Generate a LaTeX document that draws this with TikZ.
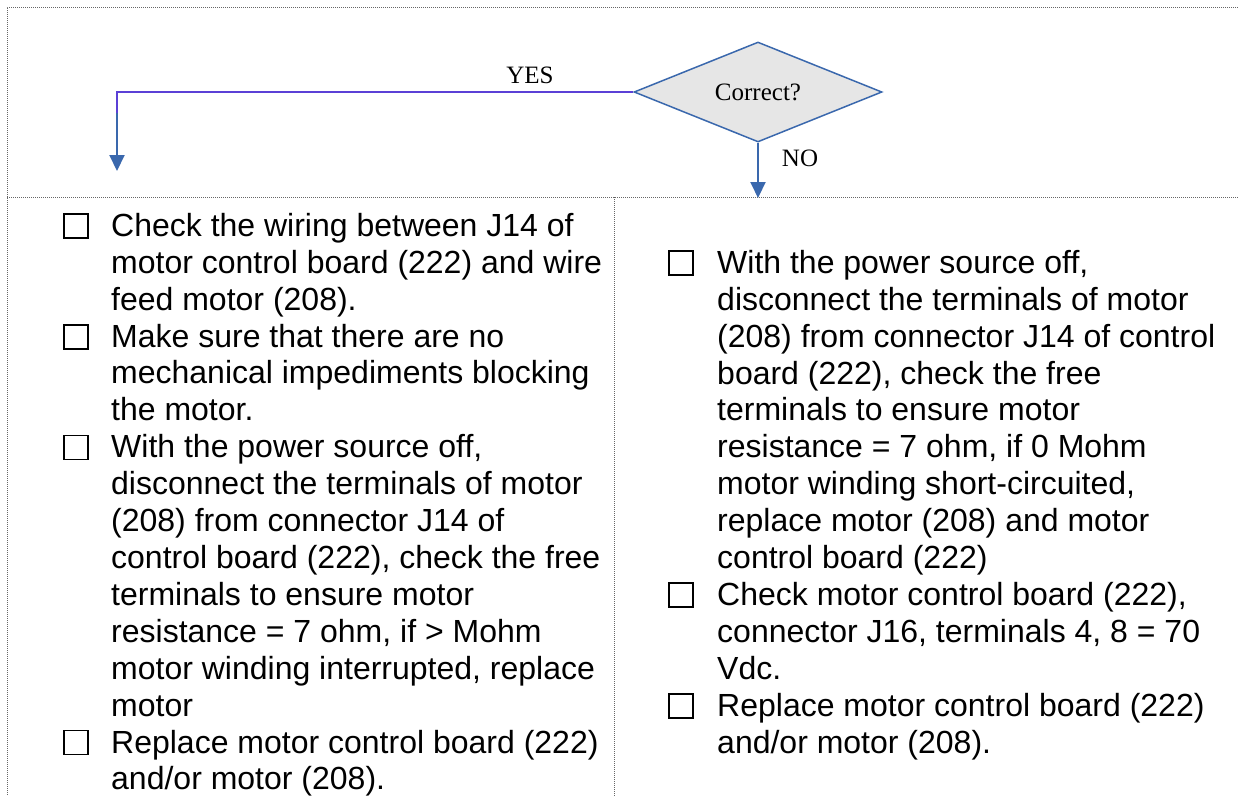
\documentclass[tikz,border=0pt]{standalone}
\usepackage{fontspec}
\setmainfont{Liberation Sans}
\newfontfamily\flowfont{Liberation Serif}
\usetikzlibrary{arrows.meta,shapes.geometric}

\definecolor{flowblue}{HTML}{3A68AD}
\definecolor{yesviolet}{HTML}{5B40D6}
\definecolor{diafill}{HTML}{E6E6E6}
\newcommand\itemsize{\fontsize{32}{36.9}\selectfont}

\begin{document}
\begin{tikzpicture}[x=1pt, y=-1pt, >={Triangle[width=15pt,length=16pt]},
  frame/.style={draw=black!60, line width=1pt, densely dotted},
  chk/.style={draw, line width=1.6pt, minimum size=24pt, inner sep=0pt},
  todo/.style={anchor=north west, align=left, inner sep=0pt, font=\itemsize,
    execute at begin node=\strut},
  flow/.style={font=\flowfont\fontsize{25}{30}\selectfont, inner sep=0pt},
  yesline/.style={draw=yesviolet, line width=2pt},
  flowarrow/.style={->, draw=flowblue, line width=2pt}]
  \useasboundingbox (0,0) rectangle (1238,796);

  % frame of the table
  \draw[frame] (1238,7) -- (7,7) -- (7,796);
  \draw[frame] (7,197) -- (1238,197);
  \draw[frame] (614,197) -- (614,796);

  % decision
  \node[diamond, draw=flowblue, fill=diafill, line width=1.5pt, aspect=2.48,
        minimum width=248pt, minimum height=100pt, inner sep=0pt,
        font=\flowfont\fontsize{25}{30}\selectfont] (correct) at (758,92) {Correct?};
  \coordinate (yesbend) at (117,92);
  \coordinate (yesjoin) at (117,113);
  \coordinate (yesend) at (117,171);
  \coordinate (noend) at (758,198);

  \draw[yesline] (correct.west) -- (yesbend) -- (yesjoin);
  \draw[flowarrow] (yesjoin) -- (yesend);
  \draw[flowarrow] (correct.south) -- (noend);
  \node[flow] (yeslbl) at (530,75) {YES};
  \node[flow] (nolbl) at (800,158) {NO};

  % left column (YES)
  \node[chk] (lbox1) at (76,226) {};
  \node[todo] (litem1) at (111,213) {Check the wiring between J14 of\\
    motor control board (222) and wire\\ feed motor (208).};
  \node[chk] (lbox2) at (76,336.7) {};
  \node[todo] (litem2) at (111,323.7) {Make sure that there are no\\
    mechanical impediments blocking\\ the motor.};
  \node[chk] (lbox3) at (76,447.4) {};
  \node[todo] (litem3) at (111,434.4) {With the power source off,\\
    disconnect the terminals of motor\\ (208) from connector J14 of\\
    control board (222), check the free\\ terminals to ensure motor\\
    resistance = 7 ohm, if > Mohm\\ motor winding interrupted, replace\\ motor};
  \node[chk] (lbox4) at (76,742.6) {};
  \node[todo] (litem4) at (111,729.6) {Replace motor control board (222)\\
    and/or motor (208).};

  % right column (NO)
  \node[chk] (rbox1) at (681,262.9) {};
  \node[todo] (ritem1) at (717,249.9) {With the power source off,\\
    disconnect the terminals of motor\\ (208) from connector J14 of control\\
    board (222), check the free\\ terminals to ensure motor\\
    resistance = 7 ohm, if 0 Mohm\\ motor winding short-circuited,\\
    replace motor (208) and motor\\ control board (222)};
  \node[chk] (rbox2) at (681,595) {};
  \node[todo] (ritem2) at (717,582) {Check motor control board (222),\\
    connector J16, terminals 4, 8 = 70\\ Vdc.};
  \node[chk] (rbox3) at (681,705.7) {};
  \node[todo] (ritem3) at (717,692.7) {Replace motor control board (222)\\
    and/or motor (208).};
\end{tikzpicture}
\end{document}
